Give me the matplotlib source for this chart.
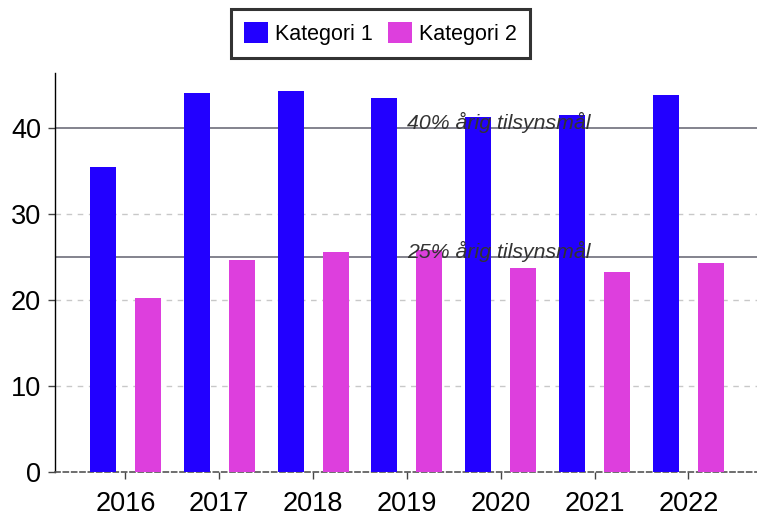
import numpy as np
import matplotlib
matplotlib.use('Agg')
import matplotlib.pyplot as plt

plt.rcParams['font.family'] = ['Liberation Sans', 'DejaVu Sans']

# data
years = ['2016', '2017', '2018', '2019', '2020', '2021', '2022']
kategori_1 = [35.5, 44.1, 44.3, 43.5, 41.3, 41.5, 43.8]
kategori_2 = [20.2, 24.7, 25.6, 25.8, 23.7, 23.3, 24.3]
targets = [40, 25]
target_labels = ['40% årig tilsynsmål', '25% årig tilsynsmål']

fig = plt.figure(figsize=(7.57, 5.17), dpi=100)
ax = fig.add_axes([0.0727, 0.087, 0.9273, 0.772])

x = np.arange(len(years))
w = 0.277
b1 = ax.bar(x - 0.24, kategori_1, w, color='#2200ff', label='Kategori 1', zorder=3)
b2 = ax.bar(x + 0.24, kategori_2, w, color='#dd3fdd', label='Kategori 2', zorder=3)

# grid
for v in [10, 20, 30]:
    ax.axhline(v, color='#c8c8c8', linestyle=(0, (4, 4)), linewidth=1, zorder=1)

# tilsynsmål lines
for t, lab in zip(targets, target_labels):
    ax.axhline(t, color='#7a7a85', linewidth=1.3, zorder=2)
    ax.text(3.0, t - 0.1, lab, fontsize=15.3, style='italic', color='#333333',
            ha='left', va='baseline', zorder=5)

ax.set_xlim(-0.75, 6.73)
ax.set_ylim(0, 46.4)
ax.set_yticks([0, 10, 20, 30, 40])
ax.set_xticks(x)
ax.set_xticklabels(years)

ax.spines['top'].set_visible(False)
ax.spines['right'].set_visible(False)
ax.spines['bottom'].set_color('#555555')
ax.spines['bottom'].set_linestyle((0, (3, 2)))
ax.spines['bottom'].set_linewidth(1.2)
ax.spines['left'].set_color('black')
ax.spines['left'].set_linewidth(1)

ax.tick_params(axis='y', labelsize=19.5, length=5, width=1, color='#444444', pad=5)
ax.tick_params(axis='x', labelsize=19.5, length=5, width=1, color='#444444', pad=9)

leg = fig.legend(handles=[b1, b2], loc='center', bbox_to_anchor=(0.503, 0.935),
                 ncol=2, fontsize=15.5, frameon=True, fancybox=False,
                 handlelength=1.1, handleheight=1.1, columnspacing=0.7,
                 handletextpad=0.35, borderpad=0.6, borderaxespad=0)
leg.get_frame().set_edgecolor('black')
leg.get_frame().set_linewidth(2.2)

fig.savefig('out.png', dpi=100)
